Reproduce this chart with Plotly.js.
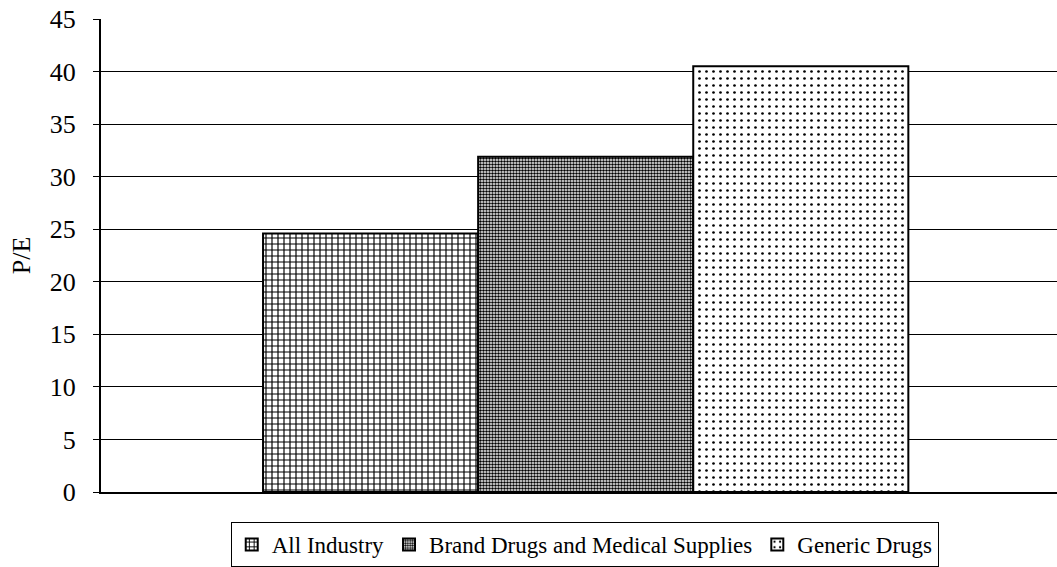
<!DOCTYPE html>
<html><head><meta charset="utf-8">
<script src="https://cdn.plot.ly/plotly-3.0.1.min.js"></script>
<style>body{margin:0;background:#fff}#c{width:1057px;height:567px}</style>
</head><body><div id="c"></div>
<script>
const categories = ["P/E"];
const seriesNames = ["All Industry", "Brand Drugs and Medical Supplies", "Generic Drugs"];
const allIndustry = [24.6];
const brandDrugs = [31.9];
const genericDrugs = [40.5];
const yTicks = [0,5,10,15,20,25,30,35,40,45];

const FONT = "Liberation Serif";
const patterns = [
  {shape:"+", size:6, solidity:0.35, fgcolor:"#000", bgcolor:"#fff", fillmode:"replace"},
  {shape:".", size:3, solidity:0.55, fgcolor:"#000", bgcolor:"#fff", fillmode:"replace"},
  {shape:".", size:7, solidity:0.12, fgcolor:"#000", bgcolor:"#fff", fillmode:"replace"}
];
const vals = [allIndustry, brandDrugs, genericDrugs];
const traces = vals.map((v,i)=>({
  type:"bar", x:categories, y:v, name:seriesNames[i],
  marker:{color:"#fff", line:{color:"#000", width:2}, pattern:patterns[i]},
  hoverinfo:"skip"
}));

const layout = {
  width:1057, height:567,
  margin:{l:101, r:0, t:19, b:75},
  paper_bgcolor:"#fff", plot_bgcolor:"#fff",
  font:{family:FONT, color:"#000", size:24},
  barmode:"group", bargap:0.325, bargroupgap:0,
  xaxis:{range:[-0.507, 0.493], showticklabels:false, showline:true, linecolor:"#000", linewidth:2, ticks:"", showgrid:false, zeroline:false},
  yaxis:{range:[0,45], tickvals:yTicks, ticktext:yTicks.map(String), showline:true, linecolor:"#000", linewidth:2,
         ticks:"outside", ticklen:6, tickcolor:"#000", showgrid:true, gridcolor:"#000", gridwidth:1, zeroline:false,
         ticklabelstandoff:12,
         tickfont:{family:FONT, size:26}, title:{text:"P/E", font:{family:FONT, size:26}, standoff:12}},
  showlegend:true,
  legend:{orientation:"h", x:0.506, xanchor:"center", y:-0.064, yanchor:"top", bordercolor:"#000", borderwidth:1,
          font:{family:FONT, size:23}, itemwidth:30, traceorder:"normal", tracegroupgap:0}
};
Plotly.newPlot("c", traces, layout, {staticPlot:true});
</script></body></html>
